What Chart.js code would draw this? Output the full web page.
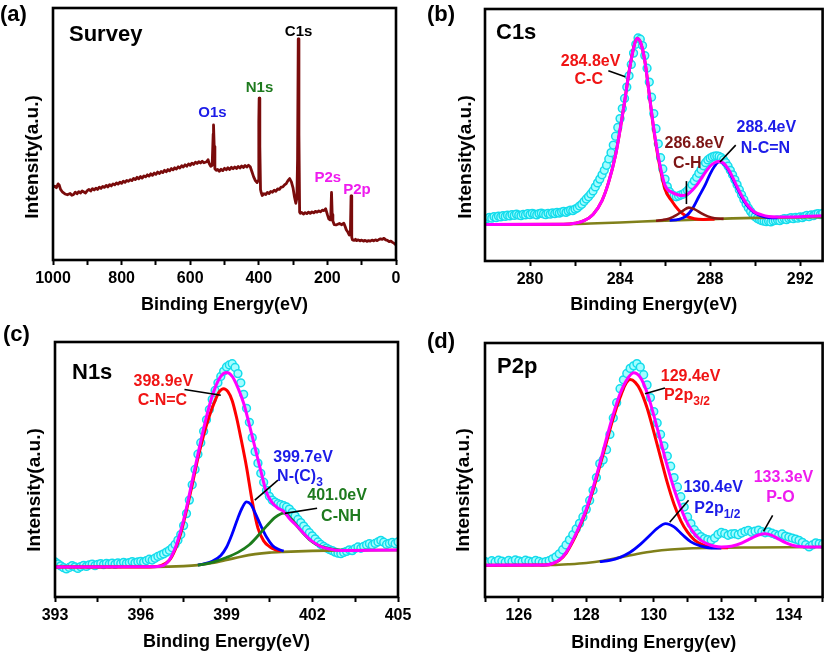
<!DOCTYPE html>
<html><head><meta charset="utf-8">
<script src="https://cdn.jsdelivr.net/npm/chart.js@4/dist/chart.umd.min.js"></script>
<style>
html,body{margin:0;padding:0;background:#fff;width:828px;height:655px;overflow:hidden;position:relative}
canvas{position:absolute}
</style></head><body>
<canvas id="ca" width="414" height="320" style="left:0;top:0;width:414px;height:320px"></canvas>
<canvas id="cb" width="414" height="320" style="left:414px;top:0;width:414px;height:320px"></canvas>
<canvas id="cc" width="414" height="335" style="left:0;top:320px;width:414px;height:335px"></canvas>
<canvas id="cd" width="414" height="335" style="left:414px;top:320px;width:414px;height:335px"></canvas>
<script>
// ---------- (a) Survey ----------
const surveyE = [1000,995,990,985,982,978,972,965,958,950,
945,940,935,930,925,920,915,910,905,900,
895,890,885,880,875,870,865,860,855,850,
845,840,835,830,825,820,815,810,805,800,
795,790,785,780,775,770,765,760,755,750,
745,740,735,730,725,720,715,710,705,700,
695,690,685,680,675,670,665,660,655,650,
645,640,635,630,625,620,615,610,605,600,
595,590,585,580,575,570,565,560,552,548,
545,540,536,533,532,530,528,524,520,515,
510,505,500,495,490,485,480,475,470,465,
460,455,450,445,440,435,430,425,420,415,
410,405,402,400,399,397,395,393,390,385,
380,375,370,365,360,355,350,345,340,335,
330,325,320,315,310,305,300,296,292,289,
287,285,283,281,279,275,270,265,260,255,
250,245,240,235,230,225,220,215,210,205,
200,196,192,190,188,186,184,180,175,170,
165,158,152,148,145,140,136,135,133,131,
129,127,122,118,115,110,105,100,95,90,
85,80,75,70,65,60,55,50,45,40,
35,30,25,20,15,10,5,0];
const surveyI = [29.0,29.3,28.7,30.2,29.8,28.0,26.9,26.2,25.9,26.4,
25.7,26.0,26.9,26.3,27.1,26.6,27.4,27.0,26.6,27.5,
28.0,27.4,28.3,27.8,28.5,28.0,28.9,28.4,29.2,28.8,
29.6,29.0,29.9,29.4,30.2,29.8,30.6,30.1,30.9,30.4,
31.3,30.8,31.6,31.2,31.9,31.5,32.4,31.9,32.8,32.2,
33.1,32.5,33.4,33.0,33.8,33.3,34.2,33.6,34.5,34.0,
34.9,34.3,35.1,34.7,35.6,35.0,35.9,35.4,36.3,35.8,
36.6,36.1,37.0,36.5,37.4,36.9,37.8,37.2,38.1,37.6,
38.4,37.9,38.8,38.3,39.0,38.5,39.2,38.6,39.0,39.8,
38.4,37.2,37.6,50.0,53.6,45.0,36.2,35.6,35.9,35.2,
36.0,35.5,36.4,35.8,36.6,35.9,36.8,36.2,36.9,36.3,
37.1,36.5,37.3,36.7,37.5,36.9,37.6,37.0,35.0,33.0,
31.5,30.7,31.5,55.0,64.2,45.0,28.0,26.8,25.6,26.3,
26.0,26.8,26.4,27.2,26.9,27.7,27.3,28.2,28.0,28.9,
29.0,29.8,30.3,31.5,32.3,31.0,28.5,25.0,22.5,24.5,
40.0,87.7,50.0,19.0,18.5,18.9,18.2,18.8,18.4,19.0,
18.5,19.1,18.7,19.3,19.0,19.5,19.1,19.8,19.6,20.3,
18.0,16.3,15.9,18.0,26.8,18.0,15.5,14.0,13.9,14.2,
14.5,14.0,14.6,13.2,12.0,11.0,9.9,10.0,11.0,25.4,
9.0,8.0,7.8,8.2,7.7,8.0,7.6,7.9,7.5,7.8,
7.4,7.7,7.5,7.9,7.6,8.0,7.7,8.1,8.4,8.2,
8.6,8.0,7.8,7.3,7.5,7.0,6.6,6.0];
const surveyMajorTicks = [0,200,400,600,800,1000];
const surveyMinorTicks = [100,300,500,700,900];

// ---------- (b) C1s ----------
const c1sDataStart = 278.0, c1sDataStep = 0.1;
const c1sData = [16.5,16.9,17.3,17.0,17.6,17.2,17.8,17.5,18.0,17.7,
18.2,17.9,18.4,18.1,18.6,18.2,18.0,18.5,18.3,18.8,
18.4,18.9,18.6,18.3,18.8,19.0,18.7,18.4,18.9,18.6,
19.1,18.8,19.3,19.0,19.4,19.7,19.3,19.8,20.2,20.0,
20.6,21.0,21.8,22.5,23.6,24.6,25.5,26.6,27.8,29.4,
31.0,32.5,34.2,36.0,38.0,40.5,43.0,46.0,49.5,53.0,
56.5,60.5,64.5,69.0,73.5,78.0,82.5,86.0,88.5,88.0,
85.5,81.5,76.5,71.0,65.0,58.5,52.5,46.5,41.0,36.5,
32.5,29.5,27.5,26.4,25.8,25.5,25.8,26.2,26.5,27.2,
28.0,29.0,30.3,31.8,33.2,34.8,36.3,37.8,39.0,40.1,
40.8,41.3,41.6,41.7,41.5,41.0,40.2,39.0,37.6,36.0,
34.2,32.3,30.3,28.3,26.3,24.4,22.6,21.0,19.7,18.5,
17.6,16.9,16.4,16.0,15.8,15.6,15.8,15.5,15.9,16.1,
16.3,16.0,16.5,16.8,16.4,16.9,17.2,16.8,17.3,17.0,
17.5,17.2,17.7,18.1,17.6,18.3,18.0,18.6,18.8,18.4,
18.9];
const c1sFitE = [278,281.5,282.0,282.4,282.8,283.2,283.5,283.8,284.0,284.2,284.4,284.6,284.75,284.9,285.1,285.3,285.5,285.7,286.0,286.3,286.6,286.8,287.0,287.2,287.4,287.6,287.8,288.0,288.2,288.4,288.6,288.8,289.0,289.2,289.4,289.6,289.8,290.0,290.3,290.6,291.0,291.5,292.0,292.5,293.0];
const c1sFitI = [14.5,14.6,15.0,16.0,18.5,24.0,31.5,42.0,52.0,63.0,75.0,84.5,88.3,87.0,79.5,66.0,52.5,41.5,30.0,27.3,26.2,26.0,26.5,28.0,30.0,32.6,35.3,37.6,39.0,39.5,38.8,36.6,33.3,29.5,26.0,23.0,20.8,19.3,18.3,17.7,17.5,17.5,17.6,17.8,18.0];
const c1sCCE = [278,281.5,282.0,282.4,282.8,283.2,283.5,283.8,284.0,284.2,284.4,284.6,284.75,284.9,285.1,285.3,285.5,285.7,286.0,286.3,286.6,286.9,287.3,287.7,288.2];
const c1sCCI = [14.5,14.6,15.0,16.0,18.5,24.0,31.5,42.0,52.0,63.0,75.0,84.5,88.3,87.0,79.5,66.0,52.0,40.8,28.5,23.8,20.2,18.0,16.8,16.5,16.6];
const c1sCHE = [285.6,285.9,286.2,286.5,286.8,287.05,287.3,287.6,287.9,288.2,288.6];
const c1sCHI = [16.0,16.3,16.9,18.2,20.0,21.2,20.6,19.0,17.7,17.0,16.7];
const c1sNCNE = [286.2,286.6,286.9,287.2,287.5,287.8,288.0,288.2,288.4,288.6,288.8,289.0,289.2,289.4,289.6,289.8,290.0,290.3,290.6,291.0];
const c1sNCNI = [16.1,16.5,17.6,20.5,25.5,30.5,34.5,37.6,39.3,38.6,36.3,32.8,29.0,25.5,22.5,20.4,19.0,17.8,17.2,17.1];
const c1sBgE = [278,281,282,283,284,285,286,287,288,289,290,291,292,293];
const c1sBgI = [14.5,14.6,14.7,15.0,15.3,15.7,16.0,16.3,16.6,16.9,17.1,17.2,17.3,17.4];
const c1sMajorTicks = [280,284,288,292];
const c1sMinorTicks = [282,286,290];

// ---------- (c) N1s ----------
const n1sDataStart = 393.0, n1sDataStep = 0.1;
const n1sData = [13.8,13.0,12.2,11.5,11.0,11.6,12.3,11.8,11.2,11.9,
12.4,12.0,12.6,12.9,12.3,12.8,13.1,12.7,13.2,12.9,
13.3,12.8,13.4,13.1,13.6,13.2,13.5,13.9,13.4,13.8,
14.0,13.7,14.3,14.8,14.5,15.2,15.9,16.4,16.9,17.6,
18.3,19.3,20.6,22.3,24.5,28.0,32.7,38.0,44.0,50.0,
56.0,60.5,65.0,69.5,73.5,77.5,81.0,84.0,86.5,88.5,
90.2,91.0,91.5,90.0,87.6,84.0,79.5,74.0,68.5,62.5,
57.0,52.5,48.5,45.0,41.8,39.5,38.0,37.2,36.6,36.2,
35.8,35.3,34.5,33.2,31.8,30.4,29.2,27.8,26.5,25.2,
24.0,22.8,21.6,20.6,19.8,19.2,18.6,18.2,17.6,17.2,
17.0,17.5,17.9,18.5,18.2,19.0,19.6,19.1,19.8,20.4,
20.9,20.3,21.0,21.6,22.2,21.5,20.6,21.0,21.4,20.9,
21.6];
const n1sFitE = [393.0,396.5,396.8,397.0,397.2,397.4,397.6,397.8,398.0,398.2,398.4,398.6,398.8,399.0,399.2,399.4,399.6,399.8,400.0,400.2,400.4,400.6,400.8,401.0,401.2,401.4,401.6,401.8,402.0,402.3,402.6,403.0,404.0,405.0];
const n1sFitI = [11.8,11.9,12.4,14.5,19.0,26.0,35.0,45.5,56.0,66.0,75.0,82.0,86.5,88.0,86.5,82.0,76.0,67.5,58.5,49.5,41.0,37.0,34.8,33.6,30.8,28.5,26.2,23.8,21.8,19.8,18.8,18.2,18.3,18.4];
const n1sCNCE = [393.0,396.3,396.7,397.0,397.2,397.4,397.6,397.8,398.0,398.2,398.4,398.6,398.75,398.9,399.05,399.2,399.35,399.5,399.7,399.9,400.1,400.3,400.5,400.7,400.9];
const n1sCNCI = [11.8,11.8,12.3,14.4,18.5,25.0,34.0,44.0,54.5,63.5,71.0,77.0,80.5,81.7,80.5,77.0,70.5,62.5,51.0,37.5,27.0,22.0,19.8,18.6,18.0];
const n1sNC3E = [398.0,398.2,398.5,398.8,399.0,399.2,399.4,399.55,399.7,399.85,400.0,400.2,400.4,400.6,400.8,401.0];
const n1sNC3I = [12.5,13.0,14.0,16.3,19.5,24.8,31.0,35.0,37.3,36.3,33.0,28.0,23.5,20.3,18.8,18.0];
const n1sCNHE = [398.0,398.5,399.0,399.4,399.8,400.1,400.4,400.7,401.0,401.3,401.6,401.9,402.2,402.5,402.8,403.2];
const n1sCNHI = [12.5,13.6,15.5,17.5,20.5,24.0,27.8,31.2,32.9,30.2,26.0,22.5,20.3,19.2,18.6,18.3];
const n1sBgE = [393,396.5,397.5,398.0,398.5,399.0,399.5,400.0,400.5,401.0,402.0,403.0,405.0];
const n1sBgI = [11.8,11.8,12.1,12.5,13.3,14.5,15.8,16.8,17.4,17.7,18.1,18.3,18.4];
const n1sMajorTicks = [393,396,399,402,405];
const n1sMinorTicks = [394.5,397.5,400.5,403.5];

// ---------- (d) P2p ----------
const p2pDataStart = 125.0, p2pDataStep = 0.1;
const p2pData = [14.0,13.6,14.3,13.8,14.5,14.1,13.7,14.4,14.0,14.6,
14.2,13.9,14.5,14.1,13.8,14.4,14.0,13.6,13.9,14.3,
15.0,15.8,17.0,18.6,20.5,22.5,24.5,26.8,29.0,31.5,
34.5,38.0,42.0,47.0,52.5,54.0,58.0,64.0,70.5,76.5,
82.0,85.5,88.0,90.0,91.0,91.9,90.5,87.5,83.5,78.5,
73.0,68.5,64.0,59.5,55.5,51.5,47.0,43.3,39.5,35.4,
31.5,28.9,26.5,24.9,23.8,23.0,22.6,22.3,23.2,24.6,
25.4,25.0,24.3,24.8,24.9,24.5,25.2,25.8,26.2,25.5,
25.9,26.3,25.7,25.3,25.6,25.1,24.6,24.3,24.8,24.0,
23.6,23.2,22.8,22.3,21.5,20.6,19.7,20.5,21.3,21.0,
20.8];
const p2pFitE = [125.0,126.8,127.0,127.2,127.4,127.6,127.8,128.0,128.2,128.4,128.6,128.8,129.0,129.2,129.4,129.6,129.8,130.0,130.2,130.4,130.6,130.8,131.0,131.2,131.4,131.6,131.8,132.0,132.3,132.6,132.9,133.1,133.3,133.5,133.7,133.9,134.1,134.4,134.7,135.0];
const p2pFitI = [12.5,12.6,13.2,14.6,17.5,22.3,28.0,34.5,43.0,52.5,62.5,72.0,80.0,85.5,88.3,86.5,80.5,71.5,61.5,51.5,42.5,35.0,29.0,25.0,22.3,20.8,20.0,19.7,20.0,21.2,23.2,24.4,24.9,24.3,22.8,21.4,20.4,19.8,19.7,19.7];
const p2p32E = [125.0,126.8,127.0,127.2,127.4,127.6,127.8,128.0,128.2,128.4,128.6,128.8,129.0,129.15,129.3,129.45,129.6,129.8,130.0,130.2,130.4,130.6,130.8,131.0,131.2,131.4,131.6,131.9,132.2];
const p2p32I = [12.5,12.6,13.1,14.4,17.2,21.8,27.5,34.0,42.0,51.5,61.0,70.5,78.5,83.5,85.6,84.5,81.5,74.5,65.0,55.0,45.0,36.5,30.0,25.5,22.5,20.8,19.9,19.4,19.4];
const p2p12E = [128.4,128.7,129.0,129.3,129.6,129.9,130.1,130.35,130.6,130.85,131.1,131.4,131.7,132.0];
const p2p12I = [13.9,14.4,15.6,17.6,20.7,24.5,27.0,28.9,27.6,24.5,21.7,20.0,19.3,19.3];
const p2pBgE = [125,127.0,127.5,128.0,128.5,129.0,129.5,130.0,130.5,131.0,132.0,133.0,135.0];
const p2pBgI = [12.5,12.6,12.9,13.4,14.3,15.6,16.9,18.0,18.7,19.1,19.4,19.5,19.7];
const p2pMajorTicks = [126,128,130,132,134];
const p2pMinorTicks = [125,127,129,131,133,135];

// ---------- helpers ----------
const FONT = "'Liberation Sans', Arial, Helvetica, sans-serif";
Chart.defaults.font.family = FONT;
Chart.defaults.font.weight = 'bold';
Chart.defaults.color = '#000';
Chart.defaults.animation = false;

const RED = '#ff0000', BLUE = '#0000ff', GREEN = '#1c7c1c', MAG = '#ff00ff', BROWN = '#861414', OLIVE = '#80801a';
const TRED = '#f01414', TBLUE = '#1c1ce8', TGREEN = '#1e7a1e', TMAG = '#ee1cee', TBROWN = '#7d1515';

function pts(xs, ys) { return xs.map((x, i) => ({x: x, y: ys[i]})); }
function gridPts(start, step, ys) { return ys.map((y, i) => ({x: Math.round((start + i * step) * 100) / 100, y: y})); }
function lineDs(data, color, width, order, smooth) {
  return {data: data, borderColor: color, backgroundColor: color, borderWidth: width, pointRadius: 0,
    pointHoverRadius: 0, fill: false, tension: smooth ? 0.4 : 0, borderJoinStyle: 'round',
    cubicInterpolationMode: smooth ? 'monotone' : 'default', order: order};
}
function scatterDs(data) {
  return {data: data, showLine: false, pointRadius: 3.9, pointHoverRadius: 3.9, pointBorderWidth: 1.5,
    pointBorderColor: '#14dcec', pointBackgroundColor: '#a4fdff', order: 20};
}

function annotPlugin(cfg) {
  return {
    id: 'annot',
    afterDraw(chart) {
      const ctx = chart.ctx, a = chart.chartArea, xs = chart.scales.x, ys = chart.scales.y;
      ctx.save();
      ctx.strokeStyle = '#000'; ctx.lineWidth = 2.6;
      ctx.strokeRect(a.left, a.top, a.right - a.left, a.bottom - a.top);
      ctx.fillStyle = '#000'; ctx.textBaseline = 'middle'; ctx.textAlign = 'left';
      ctx.font = 'bold 22px ' + FONT;
      ctx.fillText(cfg.letter, cfg.letterPos[0], cfg.letterPos[1]);
      ctx.fillText(cfg.title, a.left + cfg.titleOff[0], a.top + cfg.titleOff[1]);
      ctx.save();
      ctx.translate(cfg.yTitlePos[0], cfg.yTitlePos[1]);
      ctx.rotate(-Math.PI / 2);
      ctx.textAlign = 'center';
      ctx.font = 'bold 19px ' + FONT;
      ctx.fillText('Intensity(a.u.)', 0, 0);
      ctx.restore();
      ctx.strokeStyle = '#000'; ctx.lineWidth = 1.6;
      cfg.leaders.forEach(l => {
        ctx.beginPath();
        ctx.moveTo(xs.getPixelForValue(l[0]), ys.getPixelForValue(l[1]));
        ctx.lineTo(xs.getPixelForValue(l[2]), ys.getPixelForValue(l[3]));
        ctx.stroke();
      });
      cfg.labels.forEach(t => {
        const size = cfg.labelSize;
        ctx.font = 'bold ' + size + 'px ' + FONT;
        ctx.fillStyle = t.c;
        const w = ctx.measureText(t.t).width;
        let sw = 0;
        if (t.sub) { ctx.font = 'bold ' + Math.round(size * 0.78) + 'px ' + FONT; sw = ctx.measureText(t.sub).width; }
        const px = xs.getPixelForValue(t.E), py = ys.getPixelForValue(t.I);
        const x0 = t.align === 'left' ? px : px - (w + sw) / 2;
        ctx.textAlign = 'left';
        ctx.font = 'bold ' + size + 'px ' + FONT;
        ctx.fillText(t.t, x0, py);
        if (t.sub) {
          ctx.font = 'bold ' + Math.round(size * 0.78) + 'px ' + FONT;
          ctx.fillText(t.sub, x0 + w, py + 6);
        }
      });
      ctx.restore();
    }
  };
}

function makePanel(id, cfg) {
  const allTicks = cfg.major.concat(cfg.minor).sort((p, q) => p - q);
  return new Chart(document.getElementById(id), {
    type: 'line',
    data: {datasets: cfg.datasets},
    options: {
      responsive: false, animation: false,
      layout: {padding: {left: cfg.area[0], top: cfg.area[1], right: cfg.area[2], bottom: 0}},
      plugins: {legend: {display: false}, tooltip: {enabled: false}},
      events: [],
      scales: {
        x: {
          type: 'linear', min: cfg.xmin, max: cfg.xmax, reverse: !!cfg.reverse,
          afterBuildTicks: s => { s.ticks = allTicks.map(v => ({value: v})); },
          afterFit: s => { s.height = cfg.xh; s.paddingLeft = 0; s.paddingRight = 0; },
          ticks: {autoSkip: false, maxRotation: 0, minRotation: 0, padding: 4, color: '#000',
            font: {size: 16, weight: 'bold'},
            callback: v => (cfg.major.indexOf(v) >= 0 ? String(v) : '')},
          grid: {drawOnChartArea: false, drawTicks: true, tickLength: 5, tickWidth: 2, tickColor: '#000'},
          border: {display: false},
          title: {display: true, text: cfg.xTitle, color: '#000', font: {size: 18, weight: 'bold'},
            padding: {top: 0, bottom: cfg.titlePad}}
        },
        y: {display: false, min: 0, max: 100}
      }
    },
    plugins: [annotPlugin(cfg)]
  });
}

// ---------- panels ----------
makePanel('ca', {
  area: [53, 8, 18], xh: 60, xmin: 0, xmax: 1000, reverse: true,
  major: surveyMajorTicks, minor: surveyMinorTicks, xTitle: 'Binding Energy(eV)', titlePad: 4,
  letter: '(a)', letterPos: [0, 15], title: 'Survey', titleOff: [16, 27], yTitlePos: [33, 157],
  labelSize: 15,
  labels: [
    {t: 'C1s', E: 284, I: 90.6, c: '#000'},
    {t: 'N1s', E: 398, I: 68.3, c: TGREEN},
    {t: 'O1s', E: 535, I: 58.4, c: TBLUE},
    {t: 'P2s', E: 199, I: 32.6, c: TMAG},
    {t: 'P2p', E: 114, I: 27.8, c: TMAG}
  ],
  leaders: [],
  datasets: [lineDs(pts(surveyE, surveyI), '#7a0b0b', 2.8, 0, false)]
});

makePanel('cb', {
  area: [71, 9, 2], xh: 59, xmin: 278, xmax: 293,
  major: c1sMajorTicks, minor: c1sMinorTicks, xTitle: 'Binding Energy(eV)', titlePad: 4,
  letter: '(b)', letterPos: [13, 15], title: 'C1s', titleOff: [11, 24], yTitlePos: [52, 157],
  labelSize: 16,
  labels: [
    {t: '284.8eV', E: 282.69, I: 79.1, c: TRED},
    {t: 'C-C', E: 282.61, I: 72.0, c: TRED},
    {t: '286.8eV', E: 287.3, I: 46.4, c: TBROWN},
    {t: 'C-H', E: 286.99, I: 38.8, c: TBROWN},
    {t: '288.4eV', E: 290.5, I: 52.8, c: TBLUE},
    {t: 'N-C=N', E: 290.46, I: 44.8, c: TBLUE}
  ],
  leaders: [[283.48, 75.5, 284.23, 73.1], [286.95, 31.7, 286.95, 22.6], [289.14, 46.0, 288.44, 39.3]],
  datasets: [
    scatterDs(gridPts(c1sDataStart, c1sDataStep, c1sData)),
    lineDs(pts(c1sBgE, c1sBgI), OLIVE, 2.6, 8, true),
    lineDs(pts(c1sCCE, c1sCCI), RED, 3, 5, true),
    lineDs(pts(c1sNCNE, c1sNCNI), BLUE, 2.8, 4, true),
    lineDs(pts(c1sCHE, c1sCHI), BROWN, 2.6, 3, true),
    lineDs(pts(c1sFitE, c1sFitI), MAG, 3, 0, true)
  ]
});

makePanel('cc', {
  area: [55, 22, 16], xh: 58, xmin: 393, xmax: 405,
  major: n1sMajorTicks, minor: n1sMinorTicks, xTitle: 'Binding Energy(eV)', titlePad: 2.5,
  letter: '(c)', letterPos: [3, 15], title: 'N1s', titleOff: [17, 31], yTitlePos: [35, 170],
  labelSize: 16,
  labels: [
    {t: '398.9eV', E: 396.79, I: 84.6, c: TRED},
    {t: 'C-N=C', E: 396.76, I: 77.1, c: TRED},
    {t: '399.7eV', E: 401.68, I: 54.8, c: TBLUE},
    {t: 'N-(C)', sub: '3', E: 401.57, I: 47.3, c: TBLUE},
    {t: '401.0eV', E: 402.87, I: 39.9, c: TGREEN},
    {t: 'C-NH', E: 403.01, I: 31.6, c: TGREEN}
  ],
  leaders: [[397.53, 81.4, 398.8, 79.1], [400.8, 45.8, 399.99, 38.0], [402.17, 34.8, 401.04, 32.8]],
  datasets: [
    scatterDs(gridPts(n1sDataStart, n1sDataStep, n1sData)),
    lineDs(pts(n1sBgE, n1sBgI), OLIVE, 2.6, 8, true),
    lineDs(pts(n1sCNCE, n1sCNCI), RED, 3, 5, true),
    lineDs(pts(n1sNC3E, n1sNC3I), BLUE, 2.8, 4, true),
    lineDs(pts(n1sCNHE, n1sCNHI), GREEN, 2.8, 3, true),
    lineDs(pts(n1sFitE, n1sFitI), MAG, 3, 0, true)
  ]
});

makePanel('cd', {
  area: [71, 23, 2], xh: 58, xmin: 125, xmax: 135,
  major: p2pMajorTicks, minor: p2pMinorTicks, xTitle: 'Binding Energy(ev)', titlePad: 1.5,
  letter: '(d)', letterPos: [13, 22], title: 'P2p', titleOff: [12, 24], yTitlePos: [50, 170],
  labelSize: 16,
  labels: [
    {t: '129.4eV', E: 131.09, I: 86.9, c: TRED},
    {t: 'P2p', sub: '3/2', E: 130.3, I: 79.4, c: TRED, align: 'left'},
    {t: '130.4eV', E: 131.76, I: 43.2, c: TBLUE},
    {t: 'P2p', sub: '1/2', E: 131.2, I: 34.9, c: TBLUE, align: 'left'},
    {t: '133.3eV', E: 133.84, I: 47.1, c: TMAG},
    {t: 'P-O', E: 133.75, I: 39.2, c: TMAG}
  ],
  leaders: [[129.74, 80.0, 130.33, 82.3], [130.47, 29.4, 131.03, 38.1], [133.25, 25.8, 133.52, 32.1]],
  datasets: [
    scatterDs(gridPts(p2pDataStart, p2pDataStep, p2pData)),
    lineDs(pts(p2pBgE, p2pBgI), OLIVE, 2.6, 8, true),
    lineDs(pts(p2p32E, p2p32I), RED, 3, 5, true),
    lineDs(pts(p2p12E, p2p12I), BLUE, 2.8, 4, true),
    lineDs(pts(p2pFitE, p2pFitI), MAG, 3, 0, true)
  ]
});
</script>
</body></html>
